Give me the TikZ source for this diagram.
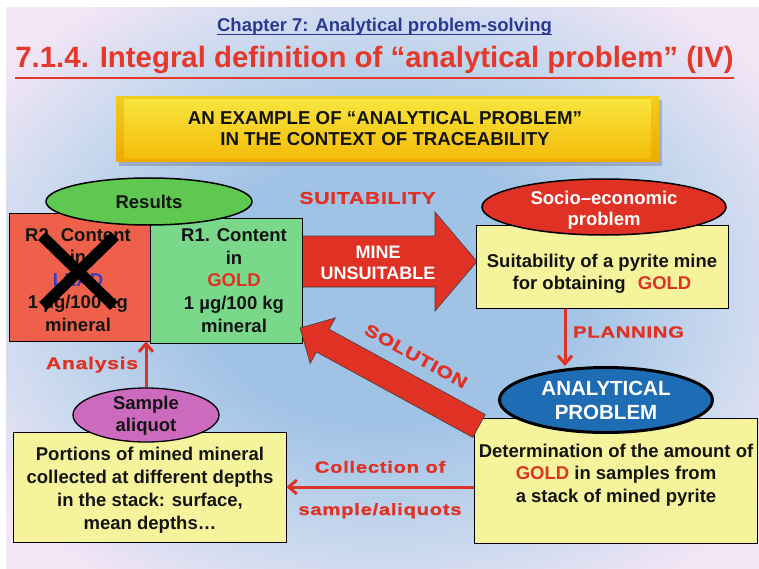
\documentclass[tikz,border=0pt]{standalone}
\usepackage{fontspec}
\setmainfont{Liberation Sans}
\newfontfamily\lblfont[FakeStretch=1.25,LetterSpace=4,FakeBold=1]{Liberation Sans}
\usetikzlibrary{arrows.meta,shapes.geometric,calc}
\definecolor{redA}{RGB}{224,50,36}
\definecolor{titlered}{RGB}{229,56,42}
\definecolor{chapblue}{RGB}{43,57,144}
\definecolor{boxyellow}{RGB}{246,243,157}
\definecolor{resgreen}{RGB}{94,200,80}
\definecolor{r1green}{RGB}{121,216,138}
\definecolor{r2red}{RGB}{239,96,74}
\definecolor{leadblue}{RGB}{50,60,200}
\definecolor{ellblue}{RGB}{30,108,180}
\definecolor{magentaA}{RGB}{204,106,190}
\definecolor{bgblue}{RGB}{160,194,229}
\definecolor{bgmid}{RGB}{200,216,238}
\definecolor{bgpink}{RGB}{244,230,246}
\definecolor{banA}{RGB}{240,205,30}
\definecolor{banB}{RGB}{238,170,0}
\definecolor{banC}{RGB}{248,228,60}
\definecolor{banD}{RGB}{244,188,10}
\definecolor{txtblack}{RGB}{20,20,20}
\pgfdeclareradialshading{bgshade}{\pgfpoint{0bp}{0bp}}{color(0bp)=(bgblue); color(12bp)=(bgblue); color(23bp)=(bgmid); color(32bp)=(bgpink); color(50bp)=(bgpink)}
\tikzset{
  txt/.style={font=\bfseries\fontsize{18.5}{22}\selectfont, text=txtblack, align=center, inner sep=0},
  lbl/.style={font=\lblfont\bfseries\fontsize{17}{20}\selectfont, text=redA, inner sep=0},
  conn/.style={redA, line width=3pt, -{Straight Barb[length=8pt,width=14pt]}},
  box/.style={rectangle, draw=black, line width=1pt, inner sep=0},
  bubble/.style={ellipse, draw=black, line width=1.5pt, inner sep=0},
  bigarrow/.style={fill=redA, draw=black!75, line width=0.6pt},
}
\begin{document}
\begin{tikzpicture}[x=1pt,y=-1pt]
\useasboundingbox (0,0) rectangle (759,569);
\fill[white] (0,0) rectangle (759,569);
\shade[shading=bgshade] (6,8) rectangle (759,569);

% headings
\node[font=\bfseries\fontsize{18.5}{22}\selectfont, text=chapblue, anchor=base, inner sep=0] (chap) at (384.5,32) {Chapter 7: Analytical problem-solving};
\draw[chapblue, line width=1.4pt] ($(chap.base west)+(0,2.5)$) -- ($(chap.base east)+(0,2.5)$);
\node[font=\bfseries\fontsize{29.4}{34}\selectfont, text=titlered, anchor=base, inner sep=0] (title) at (374.5,68) {7.1.4. Integral definition of “analytical problem” (IV)};
\draw[titlered, line width=2.2pt] ($(title.base west)+(0,10)$) -- ($(title.base east)+(0,10)$);

% banner
\fill[black, opacity=0.18] (119,100) rectangle (662,166);
\shade[top color=banA, bottom color=banB] (116,97) rectangle (659,162);
\shade[top color=banC, bottom color=banD] (124,100) rectangle (651,159);
\node[txt, font=\bfseries\fontsize{18.7}{21}\selectfont] (bantxt) at (385,128.5) {AN EXAMPLE OF “ANALYTICAL PROBLEM”\\IN THE CONTEXT OF TRACEABILITY};

% big arrow "mine unsuitable"
\filldraw[bigarrow] (290,236) -- (435,236) -- (435,212) -- (477,261.5) -- (435,311) -- (435,287) -- (290,287) -- cycle;
\node[txt, text=white, font=\bfseries\fontsize{18}{21.5}\selectfont] (minet) at (378,263) {MINE\\UNSUITABLE};
\node[lbl] (suit) at (367.5,198) {SUITABILITY};

% results boxes
\node[box, fill=r2red, minimum width=141pt, minimum height=127pt] (r2) at (79.5,277.5) {};
\node[txt, font=\bfseries\fontsize{18.5}{22.5}\selectfont] (r2t) at (78,280) {R2. Content\\in\\\textcolor{leadblue}{LEAD}\\1 µg/100 kg\\mineral};
\draw[black, line width=11pt] (42,236) -- (114,306);
\draw[black, line width=11pt] (115,236) -- (43,306);
\node[box, fill=r1green, minimum width=152pt, minimum height=125pt] (r1) at (226,280.5) {};
\node[txt, font=\bfseries\fontsize{18.5}{22.75}\selectfont] (r1t) at (234,280.5) {R1. Content\\in\\\textcolor{redA}{GOLD}\\1 µg/100 kg\\mineral};
\node[bubble, fill=resgreen, minimum width=206pt, minimum height=47pt] (res) at (149,201.5) {};
\node[txt] (rest) at (149,202) {Results};

% socio-economic problem
\node[box, fill=boxyellow, minimum width=252pt, minimum height=83pt] (yb1) at (602,266.5) {};
\node[txt, font=\bfseries\fontsize{18.5}{22}\selectfont] (yb1t) at (602,273.8) {Suitability of a pyrite mine\\for obtaining\hspace{7pt} \textcolor{redA}{GOLD}};
\node[bubble, fill=redA, minimum width=244pt, minimum height=56pt] (socio) at (604,207) {};
\node[txt, text=white, font=\bfseries\fontsize{18.5}{21}\selectfont] (sociot) at (604,210.6) {Socio–economic\\problem};

% analytical problem
\node[box, fill=boxyellow, minimum width=283pt, minimum height=125pt] (yb2) at (615.5,480.5) {};
\node[txt, font=\bfseries\fontsize{18.5}{22.3}\selectfont] (yb2t) at (616,475) {Determination of the amount of\\\textcolor{redA}{GOLD} in samples from\\a stack of mined pyrite};
\filldraw[bigarrow] (300,328) -- (335.4,317.8) -- (329.1,329.2) -- (485.3,414.6) -- (472.7,437.4) -- (316.5,352.0) -- (310.2,363.4) -- cycle;
\node[lbl, rotate=-29] (solt) at (416,356) {SOLUTION};
\node[bubble, fill=ellblue, line width=3pt, minimum width=213pt, minimum height=65pt] (ap) at (606,400) {};
\node[txt, text=white, font=\bfseries\fontsize{20.5}{23.7}\selectfont] (apt) at (606,400.6) {ANALYTICAL\\PROBLEM};

\coordinate (plx) at (565,0);
\draw[conn] (yb1.south -| plx) -- (ap.north -| plx);
\node[lbl, font=\lblfont\bfseries\fontsize{16.3}{19}\selectfont] (plan) at (628.5,332) {PLANNING};

% sample
\node[box, fill=boxyellow, minimum width=273pt, minimum height=110pt] (pbox) at (149.5,487) {};
\node[txt, font=\bfseries\fontsize{18.5}{23}\selectfont] (pboxt) at (150,490.3) {Portions of mined mineral\\collected at different depths\\in the stack: surface,\\mean depths…};
\node[bubble, fill=magentaA, line width=1.3pt, minimum width=146pt, minimum height=54pt] (samp) at (146,415) {};
\node[txt] (sampt) at (146,415.8) {Sample\\aliquot};

\draw[conn] (samp.north) -- (samp.north |- r2.south);
\node[lbl] (anal) at (92,364.7) {Analysis};

\coordinate (cy) at (0,487);
\draw[conn] (yb2.west |- cy) -- (pbox.east |- cy);
\node[lbl, font=\lblfont\bfseries\fontsize{16.3}{19}\selectfont] (coll1) at (380,466.9) {Collection of};
\node[lbl, font=\lblfont\bfseries\fontsize{16.3}{19}\selectfont] (coll2) at (380,510.8) {sample/aliquots};
\end{tikzpicture}
\end{document}
